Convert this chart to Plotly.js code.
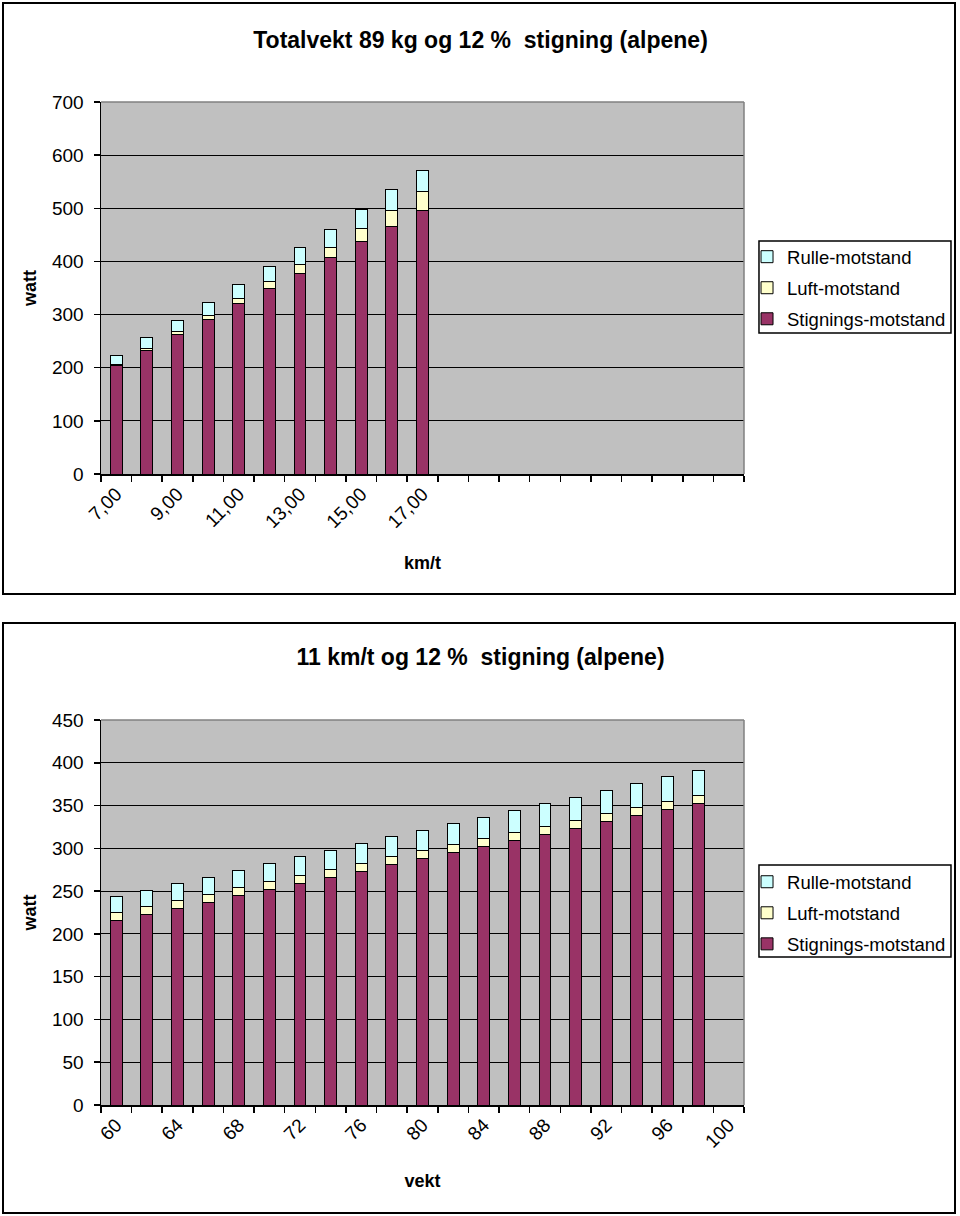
<!DOCTYPE html>
<html>
<head>
<meta charset="utf-8">
<script src="https://cdn.plot.ly/plotly-3.0.1.min.js"></script>
<style>
  html, body { margin: 0; padding: 0; background: #fff; width: 960px; height: 1216px; overflow: hidden; }
  .box { position: absolute; left: 2px; width: 954px; box-sizing: border-box; border: 2px solid #000; background: #fff; }
  #box1 { top: 2px; height: 593px; }
  #box2 { top: 622px; height: 592px; }
  .chart { width: 950px; }
  #chart1 { height: 589px; }
  #chart2 { height: 588px; }
</style>
</head>
<body>
<div class="box" id="box1"><div class="chart" id="chart1"></div></div>
<div class="box" id="box2"><div class="chart" id="chart2"></div></div>
<script>
// ---------- Chart 1: Totalvekt 89 kg, speed categories ----------
const speeds = [7, 8, 9, 10, 11, 12, 13, 14, 15, 16, 17];
const speedStigning = [204, 233, 262, 291, 320, 349, 378, 407, 437, 466, 495];
const speedLuft     = [2.5, 3.7, 5.3, 7.3, 9.7, 12.6, 16, 20, 24.6, 29.9, 35.7];
const speedRulle    = [17, 19.4, 21.8, 24.3, 26.7, 29.1, 31.6, 34, 36.4, 38.9, 41.2];
const speedTickVals = [7, 9, 11, 13, 15, 17];
const speedTickText = ['7,00', '9,00', '11,00', '13,00', '15,00', '17,00'];

// ---------- Chart 2: 11 km/t, weight categories ----------
const weights = [60, 62, 64, 66, 68, 70, 72, 74, 76, 78, 80, 82, 84, 86, 88, 90, 92, 94, 96, 98];
const weightStigning = [216, 223, 230, 237, 244.6, 251.8, 259, 266.2, 273.4, 280.6, 287.8, 294.9, 302.1, 309.3, 316.5, 323.7, 330.9, 338.1, 345.3, 352.5];
const weightLuft     = [9.3, 9.3, 9.3, 9.3, 9.3, 9.3, 9.3, 9.3, 9.3, 9.3, 9.3, 9.3, 9.3, 9.3, 9.3, 9.3, 9.3, 9.3, 9.3, 9.3];
const weightRulle    = [18, 18.6, 19.2, 19.8, 20.4, 21, 21.6, 22.2, 22.8, 23.4, 24, 24.6, 25.2, 25.8, 26.4, 27, 27.6, 28.2, 28.8, 29.4];
const weightTickVals = [60, 64, 68, 72, 76, 80, 84, 88, 92, 96, 100];
const weightTickText = ['60', '64', '68', '72', '76', '80', '84', '88', '92', '96', '100'];

const seriesNames = ['Stignings-motstand', 'Luft-motstand', 'Rulle-motstand'];
const seriesColors = ['#993366', '#FFFFCC', '#CCFFFF'];

const FONT = 'Arial, "Liberation Sans", sans-serif';
const PLOTBG = '#c0c0c0';

function boundaries(lo, hi, step) {
  const out = [];
  for (let v = lo; v <= hi + 1e-9; v += step) out.push(v);
  return out;
}

function makeTraces(x, series, width) {
  return series.map((vals, i) => ({
    type: 'bar',
    x: x,
    y: vals,
    name: seriesNames[i],
    legendgroup: 'g' + i,
    legendrank: 1000 - i,
    width: width,
    marker: { color: seriesColors[i], line: { color: '#000', width: 1 } },
    hoverinfo: 'x+y+name'
  }));
}

function makeLayout(opts) {
  return {
    width: 950,
    height: opts.height,
    margin: { l: 97, r: 210, t: opts.t, b: opts.b, autoexpand: false },
    paper_bgcolor: '#fff',
    plot_bgcolor: PLOTBG,
    barmode: 'stack',
    bargap: 0,
    showlegend: true,
    font: { family: FONT, size: 18, color: '#000' },
    title: {
      text: opts.title,
      font: { family: FONT, size: 23, color: '#000', weight: 'bold' },
      x: 0.5016, xref: 'container', xanchor: 'center',
      y: opts.titleY, yref: 'container', yanchor: 'middle'
    },
    xaxis: {
      range: opts.xrange,
      tickmode: 'array',
      tickvals: opts.tickvals,
      ticktext: opts.ticktext,
      ticks: '',
      tickangle: -45,
      tickfont: { family: FONT, size: 19, color: '#000' },
      showgrid: false,
      zeroline: false,
      showline: true, linecolor: '#000', linewidth: 1.5,
      minor: { tickmode: 'array', tickvals: opts.minorVals, ticks: 'outside', ticklen: 6, tickwidth: 1.5, tickcolor: '#000', showgrid: false },
      title: { text: opts.xtitle, font: { family: FONT, size: 18, color: '#000', weight: 'bold' }, standoff: opts.xstandoff },
      automargin: true,
      fixedrange: true
    },
    yaxis: {
      range: opts.yrange,
      dtick: opts.dtick,
      tick0: 0,
      ticks: 'outside', ticklen: 6, tickwidth: 1.5, tickcolor: '#000',
      ticklabelstandoff: 6,
      tickfont: { family: FONT, size: 19, color: '#000' },
      showgrid: true, gridcolor: '#000', gridwidth: 1,
      zeroline: false,
      showline: true, linecolor: '#000', linewidth: 1.5,
      title: { text: 'watt', font: { family: FONT, size: 18, color: '#000', weight: 'bold' }, standoff: 10 },
      automargin: true,
      fixedrange: true
    },
    legend: {
      x: 1.0047, xanchor: 'left', xref: 'paper',
      y: opts.legendY, yanchor: 'top', yref: 'paper',
      bgcolor: 'rgba(0,0,0,0)', borderwidth: 0,
      traceorder: 'grouped',
      tracegroupgap: 4,
      font: { family: FONT, size: 18.5, color: '#000' }
    },
    shapes: [
      // plot area border (top and right) in grey
      { type: 'line', xref: 'paper', yref: 'paper', x0: 0, x1: 1, y0: 1, y1: 1, line: { color: '#808080', width: 1.5 } },
      { type: 'line', xref: 'paper', yref: 'paper', x0: 1, x1: 1, y0: 0, y1: 1, line: { color: '#808080', width: 1.5 } },
      // legend frame
      { type: 'rect', xref: 'paper', yref: 'paper', x0: 1.0233, x1: 1.3219, y0: opts.legBox[0], y1: opts.legBox[1], line: { color: '#000', width: 1.5 }, fillcolor: 'rgba(0,0,0,0)' }
    ]
  };
}

const cfg = { staticPlot: true, displayModeBar: false };

Plotly.newPlot('chart1',
  makeTraces(speeds, [speedStigning, speedLuft, speedRulle], 0.39),
  makeLayout({
    height: 589, t: 98, b: 119,
    title: 'Totalvekt 89 kg og 12 %\u00a0 stigning (alpene)', titleY: 0.939,
    xrange: [6.5, 27.5], tickvals: speedTickVals, ticktext: speedTickText,
    minorVals: boundaries(6.5, 27.5, 1),
    xtitle: 'km/t', xstandoff: 25,
    yrange: [0, 700], dtick: 100,
    legendY: 0.634, legBox: [0.379, 0.6263]
  }), cfg);

Plotly.newPlot('chart2',
  makeTraces(weights, [weightStigning, weightLuft, weightRulle], 0.78),
  makeLayout({
    height: 588, t: 96, b: 107,
    title: '11 km/t og 12 %\u00a0 stigning (alpene)', titleY: 0.944,
    xrange: [59, 101], tickvals: weightTickVals, ticktext: weightTickText,
    minorVals: boundaries(59, 101, 2),
    xtitle: 'vekt', xstandoff: 23,
    yrange: [0, 450], dtick: 50,
    legendY: 0.628, legBox: [0.3844, 0.6234]
  }), cfg);
</script>
</body>
</html>
